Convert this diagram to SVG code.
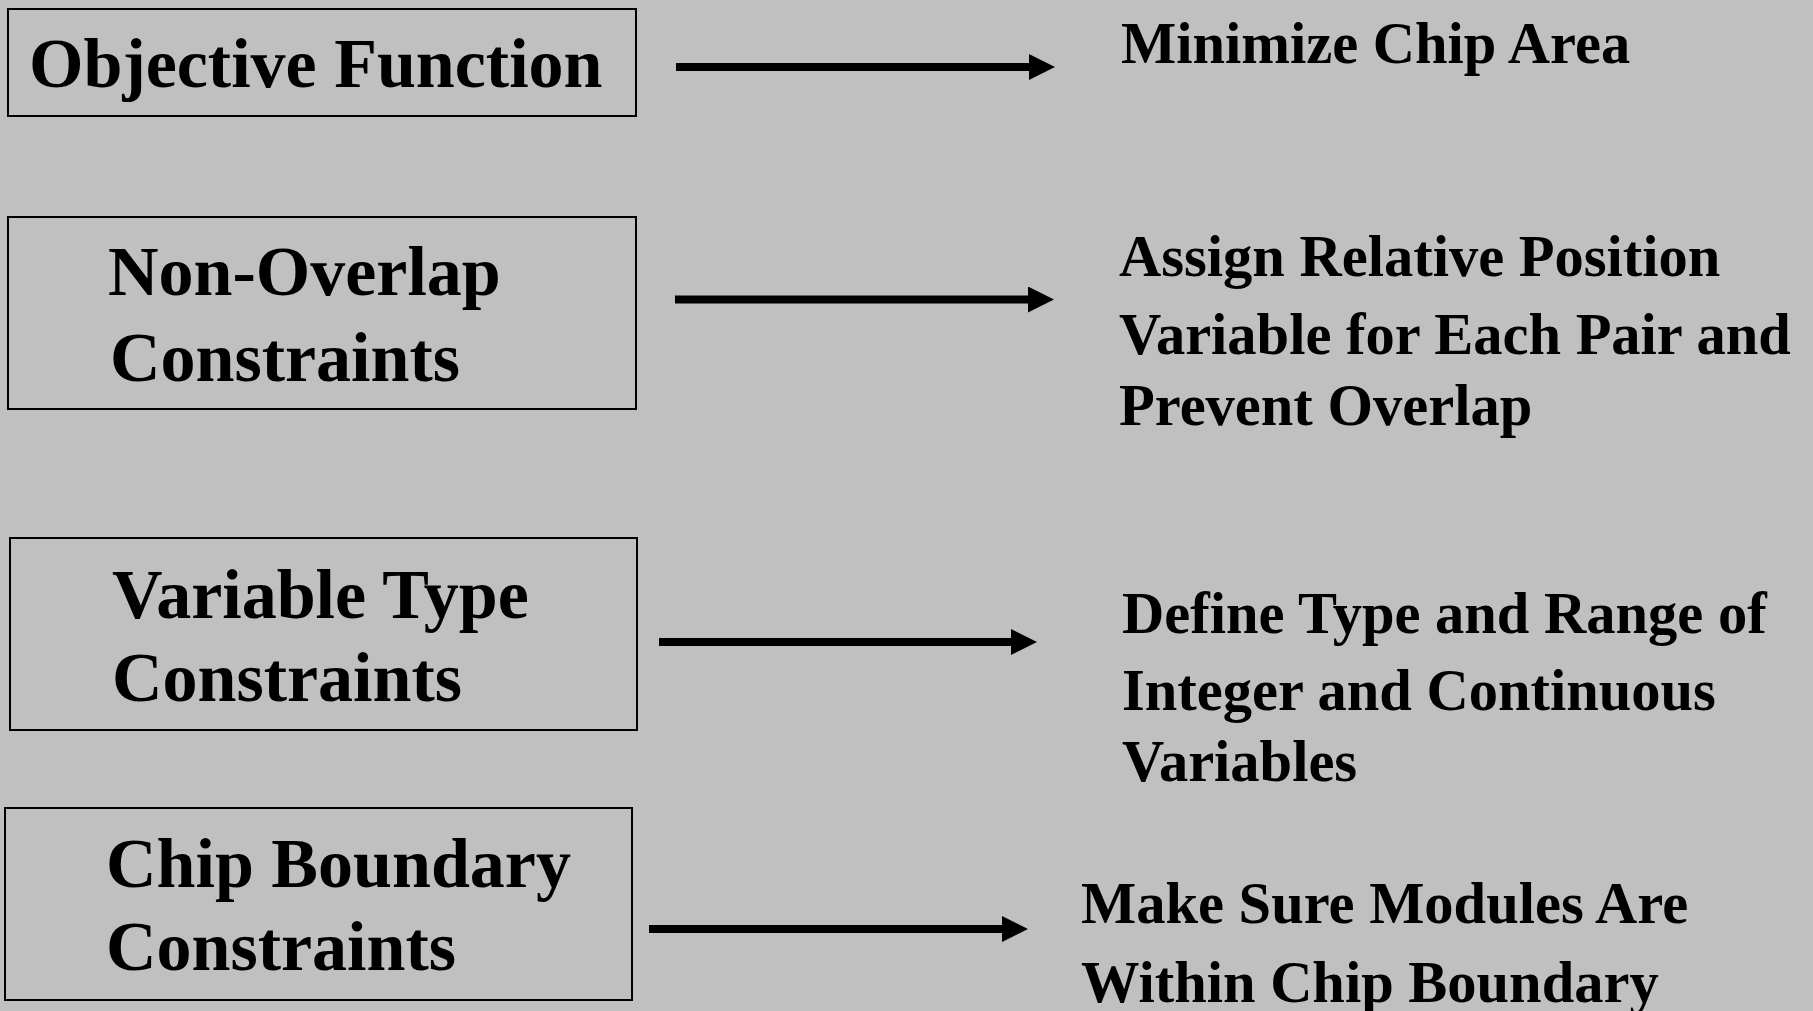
<svg xmlns="http://www.w3.org/2000/svg" width="1813" height="1011" viewBox="0 0 1813 1011">
<defs>
<style>
.box{fill:none;stroke:#000;stroke-width:2}
.t{font-family:"Liberation Serif","Times New Roman",serif;font-weight:bold;font-size:70px;fill:#000}
.d{font-family:"Liberation Serif","Times New Roman",serif;font-weight:bold;font-size:58.5px;fill:#000}
.ln{stroke:#000;stroke-width:8;fill:none}
</style>
<marker id="ah" markerWidth="26" markerHeight="26" refX="0" refY="13" orient="auto" markerUnits="userSpaceOnUse">
<path d="M0,0 L26,13 L0,26 Z" fill="#000"/>
</marker>
</defs>
<rect width="1813" height="1011" fill="#c0c0c0"/>
<g id="node-objective">
<rect class="box" x="8" y="9" width="628" height="107"/>
<text class="t" x="29" y="87">Objective Function</text>
</g>
<g id="node-nonoverlap">
<rect class="box" x="8" y="217" width="628" height="192"/>
<text class="t" x="108" y="295">Non-Overlap</text>
<text class="t" x="110" y="381">Constraints</text>
</g>
<g id="node-vartype">
<rect class="box" x="10" y="538" width="627" height="192"/>
<text class="t" x="112" y="618">Variable Type</text>
<text class="t" x="112" y="701">Constraints</text>
</g>
<g id="node-boundary">
<rect class="box" x="5" y="808" width="627" height="192"/>
<text class="t" x="106" y="887">Chip Boundary</text>
<text class="t" x="106" y="970">Constraints</text>
</g>
<g id="desc-objective">
<text class="d" x="1121" y="63">Minimize Chip Area</text>
</g>
<g id="desc-nonoverlap">
<text class="d" x="1119" y="276">Assign Relative Position</text>
<text class="d" x="1119" y="354">Variable for Each Pair and</text>
<text class="d" x="1119" y="425">Prevent Overlap</text>
</g>
<g id="desc-vartype">
<text class="d" x="1122" y="633">Define Type and Range of</text>
<text class="d" x="1122" y="710">Integer and Continuous</text>
<text class="d" x="1122" y="781">Variables</text>
</g>
<g id="desc-boundary">
<text class="d" x="1081" y="923">Make Sure Modules Are</text>
<text class="d" x="1081" y="1002">Within Chip Boundary</text>
</g>
<g id="connectors">
<line class="ln" x1="676" y1="67" x2="1029" y2="67" marker-end="url(#ah)"/>
<line class="ln" x1="675" y1="299.5" x2="1028" y2="299.5" marker-end="url(#ah)"/>
<line class="ln" x1="659" y1="642" x2="1011" y2="642" marker-end="url(#ah)"/>
<line class="ln" x1="649" y1="929" x2="1002" y2="929" marker-end="url(#ah)"/>
</g>
</svg>
